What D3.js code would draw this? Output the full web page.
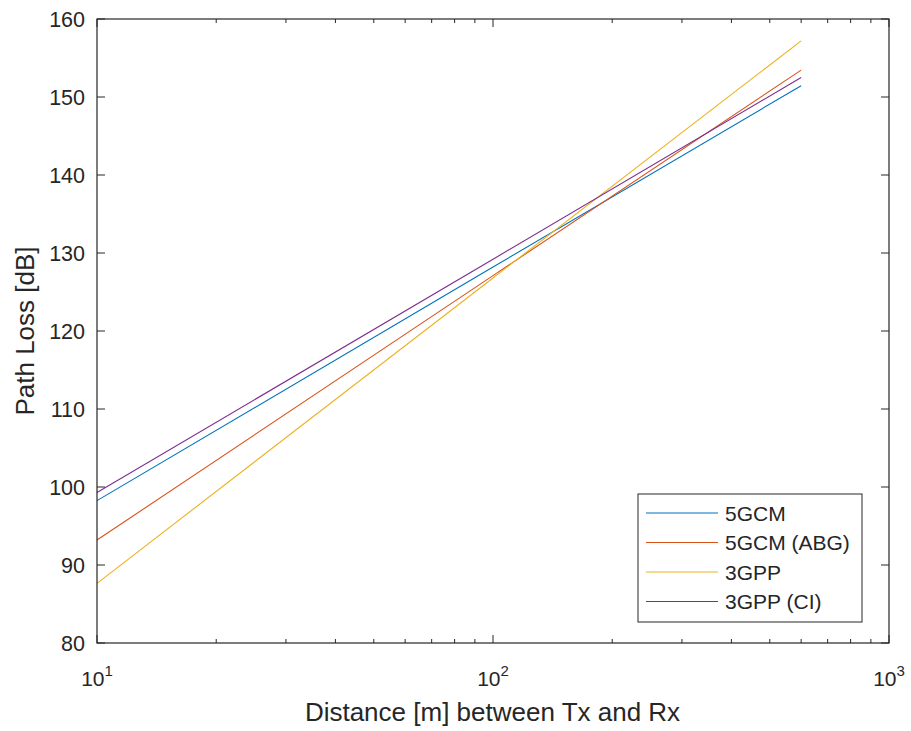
<!DOCTYPE html>
<html><head><meta charset="utf-8">
<script src="https://cdn.jsdelivr.net/npm/d3@7"></script>
<style>body{margin:0;background:#fff}svg{display:block}text{font-family:"Liberation Sans",Arial,sans-serif;fill:#262626}</style>
</head><body><svg id="c" width="911" height="731"></svg>
<script>
const distances = [10, 100, 600];
const seriesNames = ["5GCM", "5GCM (ABG)", "3GPP", "3GPP (CI)"];
const pl5GCM = [98.25, 128.2, 151.45];
const pl5GCMABG = [93.2, 127.1, 153.45];
const pl3GPP = [87.65, 126.8, 157.2];
const pl3GPPCI = [99.3, 129.2, 152.5];
const colors = ["#0072BD", "#D95319", "#EDB120", "#7E2F8E"];
const yTicks = [80, 90, 100, 110, 120, 130, 140, 150, 160];
const xMajor = [10, 100, 1000];
const xExp = ["1", "2", "3"];

const series = [pl5GCM, pl5GCMABG, pl3GPP, pl3GPPCI];
const L = 97, R = 889, T = 19, B = 643;
const svg = d3.select("#c");
const x = d3.scaleLog().domain([10, 1000]).range([L, R]);
const y = d3.scaleLinear().domain([80, 160]).range([B, T]);
const ax = "#262626";

svg.append("rect").attr("x", L).attr("y", T).attr("width", R - L).attr("height", B - T).attr("fill", "#fff");

const line = d3.line().x(d => x(d[0])).y(d => y(d[1]));
series.forEach((s, i) => {
  svg.append("path").datum(distances.map((d, j) => [d, s[j]]))
    .attr("d", line).attr("fill", "none").attr("stroke", colors[i]).attr("stroke-width", 1.1);
});

// minor x ticks
const minor = [];
[10, 100].forEach(b => { for (let k = 2; k <= 9; k++) minor.push(b * k); });
const g = svg.append("g").attr("stroke", ax).attr("stroke-width", 1);
minor.forEach(v => {
  g.append("line").attr("x1", x(v)).attr("x2", x(v)).attr("y1", B).attr("y2", B - 4);
  g.append("line").attr("x1", x(v)).attr("x2", x(v)).attr("y1", T).attr("y2", T + 4);
});
xMajor.forEach(v => {
  g.append("line").attr("x1", x(v)).attr("x2", x(v)).attr("y1", B).attr("y2", B - 8);
  g.append("line").attr("x1", x(v)).attr("x2", x(v)).attr("y1", T).attr("y2", T + 8);
});
yTicks.forEach(v => {
  g.append("line").attr("x1", L).attr("x2", L + 8).attr("y1", y(v)).attr("y2", y(v));
  g.append("line").attr("x1", R).attr("x2", R - 8).attr("y1", y(v)).attr("y2", y(v));
});
svg.append("rect").attr("x", L).attr("y", T).attr("width", R - L).attr("height", B - T)
  .attr("fill", "none").attr("stroke", ax).attr("stroke-width", 1.2);

// y labels
yTicks.forEach(v => {
  svg.append("text").attr("x", L - 12).attr("y", y(v)).attr("dy", "0.36em")
    .attr("text-anchor", "end").attr("font-size", 21.5).text(v);
});
// x labels
xMajor.forEach((v, i) => {
  const t = svg.append("text").attr("x", x(v)).attr("y", 686).attr("text-anchor", "middle").attr("font-size", 21);
  t.append("tspan").text("10");
  t.append("tspan").attr("dy", -10).attr("font-size", 15).text(xExp[i]);
});
svg.append("text").attr("x", (L + R) / 2 - 0.5).attr("y", 721).attr("text-anchor", "middle").attr("font-size", 26)
  .text("Distance [m] between Tx and Rx");
svg.append("text").attr("transform", `translate(34,${(T + B) / 2}) rotate(-90)`).attr("text-anchor", "middle")
  .attr("font-size", 26).text("Path Loss [dB]");

// legend
const lg = svg.append("g");
lg.append("rect").attr("x", 638).attr("y", 494).attr("width", 224).attr("height", 128)
  .attr("fill", "#fff").attr("stroke", ax).attr("stroke-width", 1);
seriesNames.forEach((n, i) => {
  const yy = 513 + i * 29.5;
  lg.append("line").attr("x1", 646).attr("x2", 718).attr("y1", yy).attr("y2", yy)
    .attr("stroke", colors[i]).attr("stroke-width", 1.1);
  lg.append("text").attr("x", 725).attr("y", yy).attr("dy", "0.36em").attr("font-size", 21).text(n);
});
</script></body></html>
